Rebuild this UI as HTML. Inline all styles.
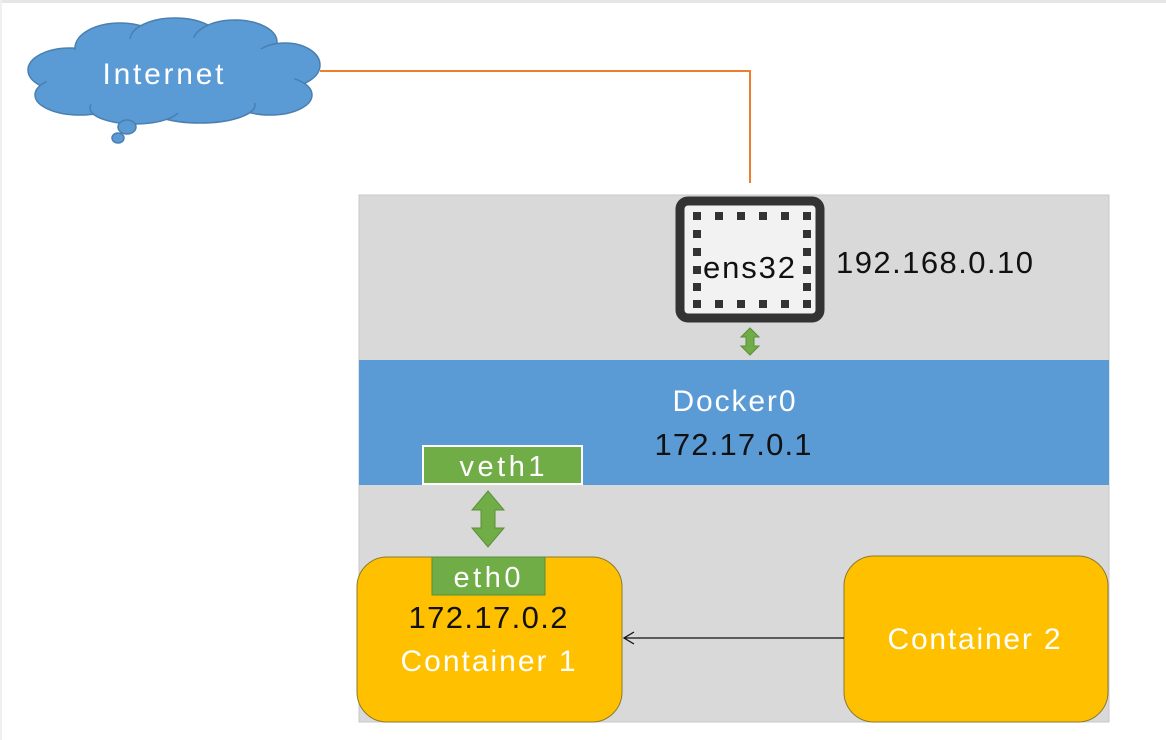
<!DOCTYPE html>
<html><head><meta charset="utf-8"><style>
html,body{margin:0;padding:0;background:#fff;}
svg{display:block;font-family:"Liberation Sans",sans-serif;}
</style></head><body>
<svg width="1166" height="740" viewBox="0 0 1166 740">
<rect x="0" y="0" width="1166" height="3" fill="#e6e6e6"/>
<rect x="0" y="0" width="2" height="740" fill="#f0f0f0"/>
<!-- cloud -->
<g fill="#5b9bd5" stroke="#4a7fb0" stroke-width="1.5">
<ellipse cx="70" cy="70" rx="42" ry="22"/>
<ellipse cx="80" cy="95" rx="45" ry="20"/>
<ellipse cx="120" cy="48" rx="45" ry="25"/>
<ellipse cx="175" cy="40" rx="45" ry="22"/>
<ellipse cx="235" cy="42" rx="42" ry="22"/>
<ellipse cx="285" cy="65" rx="35" ry="22"/>
<ellipse cx="270" cy="95" rx="42" ry="20"/>
<ellipse cx="200" cy="105" rx="55" ry="18"/>
<ellipse cx="135" cy="108" rx="45" ry="16"/>
<ellipse cx="127" cy="127" rx="9" ry="7"/>
<ellipse cx="118" cy="138" rx="6" ry="5"/>
</g>
<g fill="#5b9bd5">
<ellipse cx="170" cy="75" rx="125" ry="38"/>
</g>
<text x="163" y="84" font-size="30" fill="#fff" text-anchor="middle" textLength="121">Internet</text>
<!-- orange line -->
<polyline points="320,71 750,71 750,183" fill="none" stroke="#ed7d31" stroke-width="2"/>
<!-- host box -->
<rect x="359" y="195" width="750" height="527" fill="#d9d9d9" stroke="#c8c8c8"/>
<rect x="359" y="360" width="750" height="125" fill="#5b9bd5"/>
<!-- ens32 -->
<rect x="680" y="201" width="140" height="117" rx="8" fill="#f2f2f2" stroke="#333" stroke-width="9"/>
<g fill="#333">
<rect x="693" y="212" width="8" height="8"/><rect x="715" y="212" width="8" height="8"/><rect x="737" y="212" width="8" height="8"/><rect x="759" y="212" width="8" height="8"/><rect x="781" y="212" width="8" height="8"/><rect x="803" y="212" width="8" height="8"/>
<rect x="693" y="300" width="8" height="8"/><rect x="715" y="300" width="8" height="8"/><rect x="737" y="300" width="8" height="8"/><rect x="759" y="300" width="8" height="8"/><rect x="781" y="300" width="8" height="8"/><rect x="803" y="300" width="8" height="8"/>
<rect x="693" y="230" width="8" height="8"/><rect x="693" y="248" width="8" height="8"/><rect x="693" y="266" width="8" height="8"/><rect x="693" y="283" width="8" height="8"/>
<rect x="803" y="230" width="8" height="8"/><rect x="803" y="248" width="8" height="8"/><rect x="803" y="266" width="8" height="8"/><rect x="803" y="283" width="8" height="8"/>
</g>
<text x="749" y="278" font-size="31" fill="#111" text-anchor="middle" textLength="92">ens32</text>
<text x="836" y="273" font-size="31" fill="#111" textLength="197">192.168.0.10</text>
<!-- small arrow -->
<polygon points="750,328 759,337 754,337 754,346 759,346 750,355 741,346 746,346 746,337 741,337" fill="#70ad47" stroke="#5a8f3a"/>
<text x="734" y="411" font-size="30" fill="#fff" text-anchor="middle" textLength="123">Docker0</text>
<text x="733" y="455" font-size="31" fill="#111" text-anchor="middle" textLength="157">172.17.0.1</text>
<!-- veth1 -->
<rect x="423" y="446" width="159" height="38" fill="#70ad47" stroke="#fff" stroke-width="2"/>
<text x="502" y="476" font-size="29" fill="#fff" text-anchor="middle" textLength="85">veth1</text>
<!-- big arrow -->
<polygon points="488,491 504,510 495,510 495,528 504,528 488,547 472,528 481,528 481,510 472,510" fill="#70ad47" stroke="#5a8f3a"/>
<!-- containers -->
<rect x="357" y="557" width="265" height="165" rx="30" fill="#ffc000" stroke="#8a7a30" stroke-width="1"/>
<rect x="432" y="557" width="113" height="38" fill="#70ad47" stroke="#5a8f3a"/>
<text x="487" y="587" font-size="29" fill="#fff" text-anchor="middle" textLength="67">eth0</text>
<text x="488" y="628" font-size="31" fill="#111" text-anchor="middle" textLength="159">172.17.0.2</text>
<text x="488" y="671" font-size="30" fill="#fff" text-anchor="middle" textLength="175">Container 1</text>
<rect x="844" y="556" width="264" height="166" rx="30" fill="#ffc000" stroke="#8a7a30" stroke-width="1"/>
<text x="974" y="649" font-size="30" fill="#fff" text-anchor="middle" textLength="173">Container 2</text>
<!-- thin arrow -->
<line x1="844" y1="638" x2="624" y2="638" stroke="#111" stroke-width="1.3"/>
<polyline points="634,632 624,638 634,644" fill="none" stroke="#111" stroke-width="1.3"/>
</svg>
</body></html>
